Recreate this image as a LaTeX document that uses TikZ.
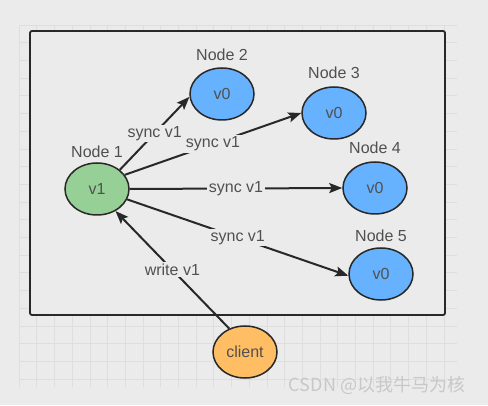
\documentclass[tikz,border=0pt]{standalone}
\usepackage{fontspec}
\setmainfont{Liberation Sans}
\newfontfamily\cjkfont{Noto Sans CJK SC}
\usetikzlibrary{shapes.geometric,arrows.meta}
\definecolor{bg}{RGB}{235,235,235}
\definecolor{gridc}{RGB}{222,222,222}
\definecolor{linec}{RGB}{40,40,40}
\definecolor{txt}{RGB}{80,80,80}
\definecolor{greenf}{RGB}{150,208,150}
\definecolor{bluef}{RGB}{102,178,255}
\definecolor{orangef}{RGB}{255,190,100}
\definecolor{wm}{RGB}{200,200,200}
\tikzset{
  vnode/.style={ellipse, draw=linec, line width=1.5pt, minimum width=64pt, minimum height=52pt, inner sep=0pt, text=txt, font=\fontsize{16}{18}\selectfont},
  title/.style={text=txt, font=\fontsize{16}{18}\selectfont, inner sep=1pt},
  conn/.style={draw=linec, line width=2pt, -{Stealth[length=13pt,width=10pt,inset=2.5pt]}},
  elabel/.style={fill=bg, text=txt, font=\fontsize{16}{18}\selectfont, inner sep=1.5pt, midway}
}
\begin{document}
\begin{tikzpicture}[x=1pt,y=1pt]
\fill[bg] (0,0) rectangle (488,405);
\useasboundingbox (0,0) rectangle (488,405);
\begin{scope}
\clip (19,18) rectangle (457,380);
\foreach \i in {0,...,25} \draw[gridc, line width=0.6pt] (19+17.7*\i,18) -- (19+17.7*\i,380);
\foreach \j in {0,...,21} \draw[gridc, line width=0.6pt] (19,380-17.7*\j) -- (457,380-17.7*\j);
\end{scope}
\draw[linec, line width=1.8pt, rounded corners=2pt, fill=bg] (30,90) rectangle (445,374);
\node[vnode, fill=greenf] (n1) at (97,216) {v1};
\node[vnode, fill=bluef] (n2) at (222,311) {v0};
\node[vnode, fill=bluef] (n3) at (334,292) {v0};
\node[vnode, fill=bluef] (n4) at (375,217) {v0};
\node[vnode, fill=bluef] (n5) at (381,131) {v0};
\node[vnode, fill=orangef] (cl) at (245,53) {client};
\node[title] (t1) at (97,253) {Node 1};
\node[title] (t2) at (222,350) {Node 2};
\node[title] (t3) at (334,332) {Node 3};
\node[title] (t4) at (375,257) {Node 4};
\node[title] (t5) at (381,169) {Node 5};
\draw[conn] (n1.40) -- node[elabel] {sync v1} (n2.185);
\draw[conn] (n1.27) -- node[elabel] {sync v1} (n3.180);
\draw[conn] (n1.0) -- node[elabel] {sync v1} (n4.180);
\draw[conn] (n1.-19) -- node[elabel] {sync v1} (n5.183);
\draw[conn] (cl.124) -- node[elabel] {write v1} (n1.-50);
\node[text=wm, font=\cjkfont\fontsize{18}{20}\selectfont, anchor=center] (wmk) at (377,20) {CSDN @以我牛马为核};
\end{tikzpicture}
\end{document}
